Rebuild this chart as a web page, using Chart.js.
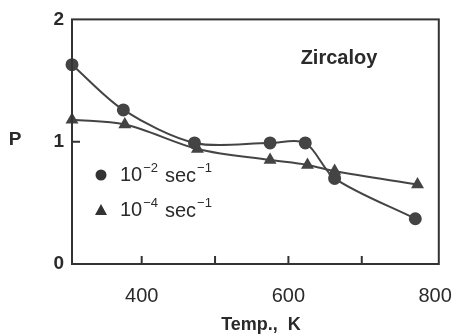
<!DOCTYPE html>
<html>
<head>
<meta charset="utf-8">
<script src="https://cdn.jsdelivr.net/npm/chart.js@4"></script>
<style>
  html,body{margin:0;padding:0;background:#fff;}
  #chart{display:block;}
</style>
</head>
<body>
<canvas id="chart" width="472" height="336"></canvas>
<script>
// data
const temps2=[305,375,472,575,623,663,773];
const p2=[1.63,1.26,0.99,0.99,0.99,0.70,0.37];
const temps4=[305,377,476,575,626,663,776];
const p4=[1.18,1.14,0.94,0.85,0.81,0.76,0.65];
const xTicks=[400,500,600,700,800];
const xLabels=['400','600','800'];
const yTicks=[0,1,2];

const ink='#333';
const font='"Liberation Sans", Arial, sans-serif';

function pts(xs,ys){
    return xs.map(function(x,i){return {x:x,y:ys[i]};});
}

// frame, inward ticks, text labels and the inner legend
const decor={
    id:'decor',
    afterDraw(chart){
        const ctx=chart.ctx;
        const a=chart.chartArea;
        const xs=chart.scales.x, ys=chart.scales.y;
        ctx.save();
        ctx.strokeStyle=ink;
        ctx.lineWidth=2;
        ctx.strokeRect(a.left,a.top,a.right-a.left,a.bottom-a.top);
        ctx.beginPath();
        [400,500,600,700].forEach(function(v){
            const px=xs.getPixelForValue(v);
            ctx.moveTo(px,a.bottom);ctx.lineTo(px,a.bottom-8);
        });
        const py=ys.getPixelForValue(1);
        ctx.moveTo(a.left,py);ctx.lineTo(a.left+8,py);
        ctx.stroke();

        ctx.fillStyle='#2a2a2a';
        ctx.textBaseline='middle';
        ctx.textAlign='center';
        ctx.font='bold 20px '+font;
        ctx.fillText('Zircaloy',339,58);
        ctx.font='bold 19px '+font;
        ctx.fillText('P',15,140);
        ctx.font='bold 18px '+font;
        ctx.fillText('Temp.,  K',261,325);

        // legend
        ctx.fillStyle='#333';
        ctx.beginPath();
        ctx.arc(101,175,5.5,0,Math.PI*2);
        ctx.fill();
        ctx.beginPath();
        ctx.moveTo(101,204);ctx.lineTo(107,215);ctx.lineTo(95,215);
        ctx.closePath();
        ctx.fill();

        ctx.fillStyle='#2a2a2a';
        ctx.textAlign='left';
        [[175,'2'],[210,'4']].forEach(function(r){
            const y=r[0];
            let x=120;
            ctx.font='20px '+font;
            ctx.fillText('10',x,y);
            x+=ctx.measureText('10').width+1;
            ctx.font='13px '+font;
            ctx.fillText('\u2212'+r[1],x,y-7);
            x=165;
            ctx.font='20px '+font;
            ctx.fillText('sec',x,y+1);
            x+=ctx.measureText('sec').width+1;
            ctx.font='13px '+font;
            ctx.fillText('\u22121',x,y-7);
        });
        ctx.restore();
    }
};

new Chart(document.getElementById('chart'),{
    type:'line',
    data:{
        datasets:[
            {
                label:'10^-2 sec^-1',
                data:pts(temps2,p2),
                borderColor:'#444',
                backgroundColor:'#444',
                borderWidth:2,
                pointStyle:'circle',
                pointRadius:5.5,
                tension:0.3,
                clip:false
            },
            {
                label:'10^-4 sec^-1',
                data:pts(temps4,p4),
                borderColor:'#444',
                backgroundColor:'#444',
                borderWidth:2,
                pointStyle:'triangle',
                pointRadius:5.5,
                cubicInterpolationMode:'monotone',
                clip:false
            }
        ]
    },
    options:{
        responsive:false,
        animation:false,
        layout:{padding:{left:0,right:19,top:15,bottom:0}},
        plugins:{legend:{display:false},tooltip:{enabled:false}},
        scales:{
            x:{
                type:'linear',
                min:305,
                max:805,
                afterBuildTicks:function(s){s.ticks=xTicks.map(function(v){return {value:v};});},
                afterFit:function(s){s.height=72;},
                grid:{display:false,drawTicks:false},
                border:{display:false},
                ticks:{
                    padding:20,
                    color:'#2a2a2a',
                    font:{family:font,size:20},
                    maxRotation:0,
                    autoSkip:false,
                    callback:function(v){return xLabels.indexOf(String(v))>=0?String(v):'';}
                }
            },
            y:{
                min:0,
                max:2,
                afterBuildTicks:function(s){s.ticks=yTicks.map(function(v){return {value:v};});},
                afterFit:function(s){s.width=72;},
                grid:{display:false,drawTicks:false},
                border:{display:false},
                ticks:{
                    padding:8,
                    color:'#2a2a2a',
                    font:{family:font,size:19,weight:'bold'}
                }
            }
        }
    },
    plugins:[decor]
});
</script>
</body>
</html>
